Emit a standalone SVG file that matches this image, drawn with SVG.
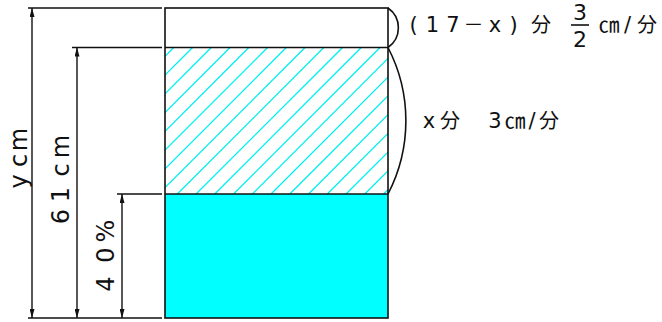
<svg xmlns="http://www.w3.org/2000/svg" width="662" height="322" viewBox="0 0 662 322">
<style>
.ln{stroke:#111;stroke-width:1.6;fill:none}
.dim{stroke:#111;stroke-width:1.4;fill:none;marker-start:url(#ah);marker-end:url(#ah)}
.hat{stroke:#00f0f0;stroke-width:1.3}
.t{font-family:"DejaVu Sans","Liberation Sans",sans-serif;fill:#111;text-anchor:middle}
.j{font-family:"Noto Sans CJK JP","DejaVu Sans",sans-serif;fill:#111;text-anchor:middle}
</style>
<defs>
<marker id="ah" viewBox="0 0 9 5" refX="9" refY="2.5" markerWidth="9" markerHeight="5" markerUnits="userSpaceOnUse" orient="auto-start-reverse">
<path d="M0,0 L9,2.5 L0,5 z" fill="#111"/>
</marker>
<clipPath id="hc"><rect x="165" y="47.5" width="223" height="146.5"/></clipPath>
</defs>
<rect width="662" height="322" fill="#fff"/>
<g id="tank">
<rect x="165" y="194" width="223" height="124" fill="#00ffff"/>
<g clip-path="url(#hc)" class="hat">
<path d="M27.3,194 L173.8,47.5 M46.05,194 L192.55,47.5 M64.8,194 L211.3,47.5 M83.55,194 L230.05,47.5 M102.3,194 L248.8,47.5 M121.05,194 L267.55,47.5 M139.8,194 L286.3,47.5 M158.55,194 L305.05,47.5 M177.3,194 L323.8,47.5 M196.05,194 L342.55,47.5 M214.8,194 L361.3,47.5 M233.55,194 L380.05,47.5 M252.3,194 L398.8,47.5 M271.05,194 L417.55,47.5 M289.8,194 L436.3,47.5 M308.55,194 L455.05,47.5 M327.3,194 L473.8,47.5 M346.05,194 L492.55,47.5 M364.8,194 L511.3,47.5 M383.55,194 L530.05,47.5"/>
</g>
<rect x="165" y="8" width="223" height="310" class="ln"/>
<line x1="165" y1="47.5" x2="388" y2="47.5" class="ln"/>
<line x1="165" y1="194" x2="388" y2="194" class="ln"/>
</g>
<g id="connectors">
<line x1="28" y1="8" x2="162" y2="8" class="ln"/>
<line x1="72" y1="47.5" x2="162" y2="47.5" class="ln"/>
<line x1="117" y1="194" x2="162" y2="194" class="ln"/>
<line x1="28" y1="318" x2="162" y2="318" class="ln"/>
<line x1="32" y1="8" x2="32" y2="318" class="dim"/>
<line x1="77" y1="47.5" x2="77" y2="318" class="dim"/>
<line x1="122" y1="194" x2="122" y2="318" class="dim"/>
<path d="M388,8 A24,24 0 0 1 388,47.5" class="ln"/>
<path d="M388,47.5 A159,159 0 0 1 388,194" class="ln"/>
</g>
<g id="label-y">
<text class="t" font-size="24" transform="translate(27,160) rotate(-90)" x="-21.5 -0.5 20.5" y="0">ycm</text>
</g>
<g id="label-61">
<text class="t" font-size="24" transform="translate(69,180) rotate(-90)" x="-36.5 -14.5 10 33.5" y="0">61cm</text>
</g>
<g id="label-40">
<text class="t" font-size="24" transform="translate(114,255) rotate(-90)" x="-29 0 24" y="0">40%</text>
</g>
<g id="label-top">
<text class="t" font-size="21" x="413.5 432.5 453" y="32">(17</text>
<text class="j" font-size="20" x="473.5" y="32">－</text>
<text class="t" font-size="21" x="495 513.5" y="32">x)</text>
<text class="j" font-size="20" x="541" y="32">分</text>
<text class="t" font-size="22" x="580" y="20">3</text>
<line x1="571" y1="25" x2="589" y2="25" class="ln"/>
<text class="t" font-size="22" x="580" y="46.5">2</text>
<text class="j" font-size="21" x="609" y="32">㎝</text>
<text class="t" font-size="21" x="627.5" y="32">/</text>
<text class="j" font-size="20" x="647" y="32">分</text>
</g>
<g id="label-mid">
<text class="t" font-size="21" x="429" y="128">x</text>
<text class="j" font-size="20" x="450" y="128">分</text>
<text class="t" font-size="21" x="495" y="128">3</text>
<text class="j" font-size="21" x="515" y="128">㎝</text>
<text class="t" font-size="21" x="532" y="128">/</text>
<text class="j" font-size="20" x="549" y="128">分</text>
</g>
</svg>
